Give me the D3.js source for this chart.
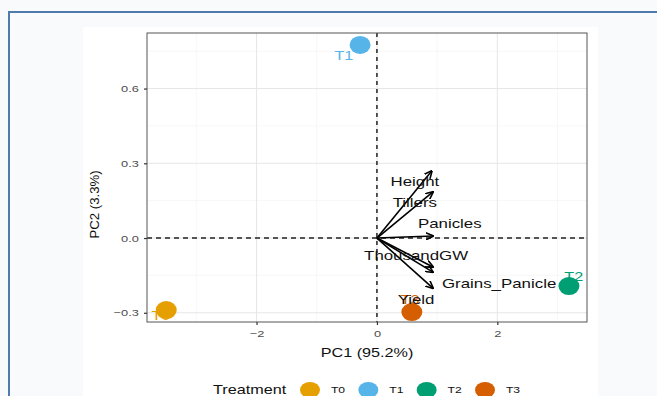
<!DOCTYPE html>
<html>
<head>
<meta charset="utf-8">
<script src="https://cdn.jsdelivr.net/npm/d3@7"></script>
<style>
  body { margin: 0; background: #f9fafc; }
  svg { display: block; font-family: "Liberation Sans", Arial, sans-serif; }
</style>
</head>
<body>
<div id="viz"></div>
<script>
// scores of each treatment
const treatments = ['T0', 'T1', 'T2', 'T3'];
const pc1 = [-3.50, -0.28, 3.19, 0.58];
const pc2 = [-0.289, 0.775, -0.193, -0.297];
const treatLabelX = [-3.59, -0.55, 3.27, 0.55];
const treatLabelY = [-0.313, 0.731, -0.157, -0.249];
const colors = ['#E69F00', '#56B4E9', '#009E73', '#D55E00'];

// loadings (arrows)
const variables = ['Height', 'Tillers', 'Panicles', 'ThousandGW', 'Grains_Panicle', 'Yield'];
const loadX = [0.91, 0.93, 0.93, 0.93, 0.93, 0.93];
const loadY = [0.269, 0.185, 0.008, -0.116, -0.137, -0.201];
const varLabelX = [0.63, 0.63, 1.21, 0.65, 2.03, 0.65];
const varLabelY = [0.225, 0.141, 0.056, -0.072, -0.181, -0.249];

const xTicks = [-2, 0, 2];
const xMinor = [-3, -1, 1, 3];
const yTicks = [-0.3, 0.0, 0.3, 0.6];
const yMinor = [-0.15, 0.15, 0.45, 0.75];

const width = 657, height = 396;
const panel = { left: 147, right: 587, top: 33, bottom: 322 };
const stretch = 1.35; // the picture is wider than tall, text included

const svg = d3.select('#viz').append('svg')
  .attr('width', width)
  .attr('height', height);

// text drawn with the same horizontal stretch as the reference
function stext(g, tx, ty, str, size, anchor, fill) {
  return g.append('text')
    .attr('transform', `translate(${tx}, ${ty}) scale(${stretch}, 1)`)
    .attr('dy', '0.35em')
    .attr('text-anchor', anchor)
    .attr('font-size', size)
    .attr('fill', fill)
    .text(str);
}

svg.append('rect').attr('width', width).attr('height', height).attr('fill', '#f9fafc');
svg.append('rect')
  .attr('x', 83).attr('y', 27).attr('width', 515).attr('height', 380)
  .attr('fill', '#fff');
// frame lines of the page
svg.append('path')
  .attr('d', `M9,${height} V12 H${width}`)
  .attr('fill', 'none')
  .attr('stroke', '#4f7cac')
  .attr('stroke-width', 2);

const x = d3.scaleLinear().domain([-3.82, 3.49]).range([panel.left, panel.right]);
const y = d3.scaleLinear().domain([-0.337, 0.823]).range([panel.bottom, panel.top]);

const grid = svg.append('g');
grid.selectAll('.xmin').data(xMinor).enter().append('line')
  .attr('x1', d => x(d)).attr('x2', d => x(d))
  .attr('y1', panel.top).attr('y2', panel.bottom)
  .attr('stroke', '#f2f2f2').attr('stroke-width', 0.6);
grid.selectAll('.ymin').data(yMinor).enter().append('line')
  .attr('y1', d => y(d)).attr('y2', d => y(d))
  .attr('x1', panel.left).attr('x2', panel.right)
  .attr('stroke', '#f2f2f2').attr('stroke-width', 0.6);
grid.selectAll('.xmaj').data(xTicks).enter().append('line')
  .attr('x1', d => x(d)).attr('x2', d => x(d))
  .attr('y1', panel.top).attr('y2', panel.bottom)
  .attr('stroke', '#e6e6e6').attr('stroke-width', 1);
grid.selectAll('.ymaj').data(yTicks).enter().append('line')
  .attr('y1', d => y(d)).attr('y2', d => y(d))
  .attr('x1', panel.left).attr('x2', panel.right)
  .attr('stroke', '#e6e6e6').attr('stroke-width', 1);

// dashed zero lines
svg.append('line')
  .attr('x1', x(0)).attr('x2', x(0)).attr('y1', panel.top).attr('y2', panel.bottom)
  .attr('stroke', '#222').attr('stroke-width', 1.5).attr('stroke-dasharray', '4,4');
svg.append('line')
  .attr('y1', y(0)).attr('y2', y(0)).attr('x1', panel.left).attr('x2', panel.right)
  .attr('stroke', '#222').attr('stroke-width', 1.5).attr('stroke-dasharray', '5,4');

// arrows
svg.append('defs').append('marker')
  .attr('id', 'head')
  .attr('viewBox', '0 0 10 10')
  .attr('refX', 9).attr('refY', 5)
  .attr('markerWidth', 8).attr('markerHeight', 8)
  .attr('markerUnits', 'userSpaceOnUse')
  .attr('orient', 'auto')
  .append('path')
  .attr('d', 'M0,0.5 L10,5 L0,9.5')
  .attr('fill', 'none').attr('stroke', '#000').attr('stroke-width', 2);

svg.append('g').selectAll('line').data(variables).enter().append('line')
  .attr('x1', x(0)).attr('y1', y(0))
  .attr('x2', (d, i) => x(loadX[i])).attr('y2', (d, i) => y(loadY[i]))
  .attr('stroke', '#000').attr('stroke-width', 1.6)
  .attr('marker-end', 'url(#head)');

// treatment labels then points
const tLabels = svg.append('g');
treatments.forEach((t, i) => {
  stext(tLabels, x(treatLabelX[i]), y(treatLabelY[i]), t, 12, 'middle', colors[i]);
});

svg.append('g').selectAll('ellipse').data(treatments).enter().append('ellipse')
  .attr('cx', (d, i) => x(pc1[i])).attr('cy', (d, i) => y(pc2[i]))
  .attr('rx', 10.5).attr('ry', 9)
  .attr('fill', (d, i) => colors[i]);

const vLabels = svg.append('g');
variables.forEach((v, i) => {
  stext(vLabels, x(varLabelX[i]), y(varLabelY[i]), v, 12.5, 'middle', '#111');
});

// panel border
svg.append('rect')
  .attr('x', panel.left).attr('y', panel.top)
  .attr('width', panel.right - panel.left).attr('height', panel.bottom - panel.top)
  .attr('fill', 'none').attr('stroke', '#555').attr('stroke-width', 1);

// axes
const xAxis = svg.append('g')
  .attr('transform', `translate(0, ${panel.bottom})`)
  .call(d3.axisBottom(x).tickValues(xTicks).tickSize(3).tickPadding(5).tickFormat(d3.format('d')));
const yAxis = svg.append('g')
  .attr('transform', `translate(${panel.left}, 0)`)
  .call(d3.axisLeft(y).tickValues(yTicks).tickSize(3).tickPadding(3).tickFormat(d3.format('.1f')));
[xAxis, yAxis].forEach(a => {
  a.select('.domain').remove();
  a.selectAll('line').attr('stroke', '#333').attr('stroke-width', 1.2);
  a.selectAll('text').attr('fill', '#4d4d4d').attr('font-size', 9.5)
    .attr('font-family', '"Liberation Sans", Arial, sans-serif')
    .attr('transform', `scale(${stretch}, 1)`);
});

stext(svg, (panel.left + panel.right) / 2, 353, 'PC1 (95.2%)', 12, 'middle', '#111');
svg.append('text')
  .attr('transform', `translate(95, ${(panel.top + panel.bottom) / 2 + 27}) rotate(-90) scale(1.1, 1)`)
  .attr('dy', '0.35em')
  .attr('text-anchor', 'middle').attr('font-size', 12).attr('fill', '#111')
  .text('PC2 (3.3%)');

// legend
const legend = svg.append('g').attr('transform', 'translate(213, 390)');
stext(legend, 0, 0, 'Treatment', 12, 'start', '#111');
const legendX = d3.scalePoint().domain(treatments).range([97, 272]);
const items = legend.selectAll('.item').data(treatments).enter().append('g')
  .attr('transform', d => `translate(${legendX(d)}, 0)`);
items.append('ellipse').attr('rx', 10).attr('ry', 8).attr('fill', (d, i) => colors[i]);
items.each(function (d) {
  stext(d3.select(this), 28, 0, d, 9, 'middle', '#111');
});
</script>
</body>
</html>
